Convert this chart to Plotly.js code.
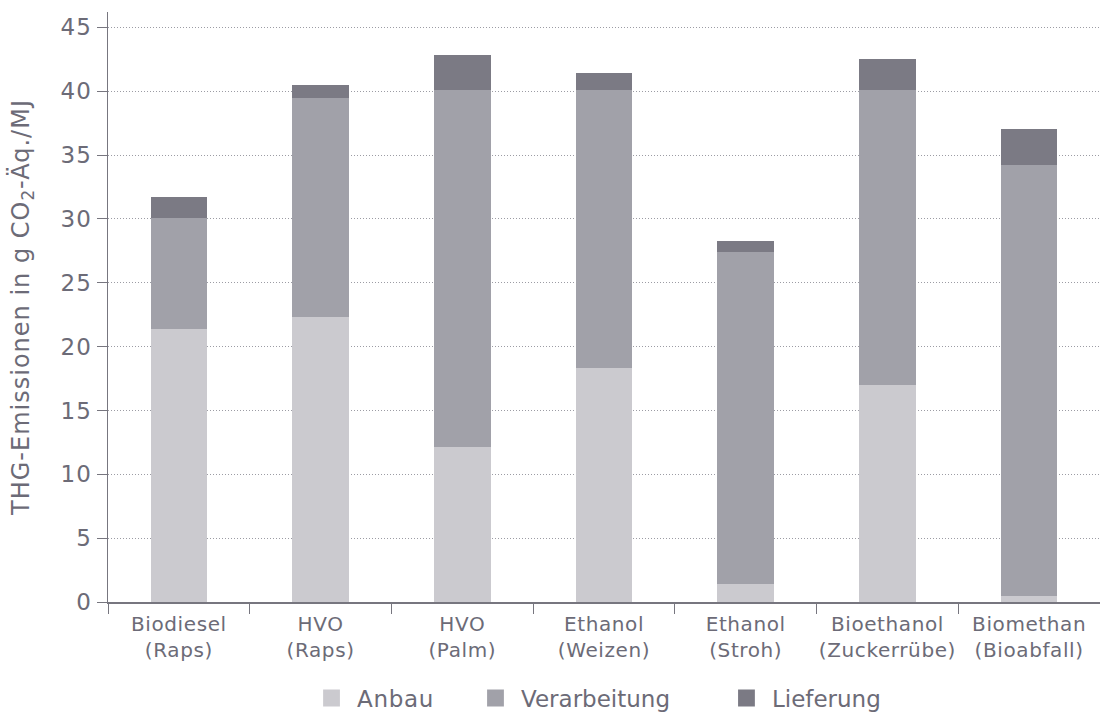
<!DOCTYPE html>
<html>
<head>
<meta charset="utf-8">
<script src="https://cdn.plot.ly/plotly-3.0.1.min.js"></script>
<style>
  html, body { margin: 0; padding: 0; background: #fff; }
  #chart { width: 1100px; height: 713px; }
  .xtick text { letter-spacing: 0.6px; }
  .ytick text, .ytitle { letter-spacing: 1px; }
  .legendtext { letter-spacing: 0.7px; }
</style>
</head>
<body>
<div id="chart"></div>
<script>
// Categories (fuel pathway with feedstock)
const categories = [
  "Biodiesel<br>(Raps)",
  "HVO<br>(Raps)",
  "HVO<br>(Palm)",
  "Ethanol<br>(Weizen)",
  "Ethanol<br>(Stroh)",
  "Bioethanol<br>(Zuckerrübe)",
  "Biomethan<br>(Bioabfall)"
];

// Emission shares in g CO2-eq./MJ
const anbau        = [21.4, 22.3, 12.1, 18.3, 1.4, 17.0, 0.5];
const verarbeitung = [8.7, 17.2, 28.0, 21.8, 26.0, 23.1, 33.7];
const lieferung    = [1.6, 1.0, 2.7, 1.3, 0.9, 2.4, 2.8];

const seriesNames  = ["Anbau", "Verarbeitung", "Lieferung"];
const seriesColors = ["#cbcacf", "#a1a1a9", "#7b7a84"];
// one legend box per series so each entry sits at its own spot
const legendIds    = ["legend", "legend2", "legend3"];
const legendX      = [0.2107, 0.3760, 0.6290];

const textColor = "#6c6b77";
const axisColor = "#77767f";

const traces = [anbau, verarbeitung, lieferung].map((vals, i) => ({
  type: "bar",
  x: categories,
  y: vals,
  name: seriesNames[i],
  legend: legendIds[i],
  marker: { color: seriesColors[i], line: { width: 0 } },
  hoverinfo: "x+y+name"
}));

const legendBase = (x) => ({
  orientation: "h",
  x: x,
  xanchor: "left",
  yref: "container",
  y: 0.021,
  yanchor: "middle",
  borderwidth: 0,
  bgcolor: "rgba(0,0,0,0)",
  font: { size: 23, color: textColor }
});

const layout = {
  width: 1100,
  height: 713,
  margin: { l: 108, r: 0, t: 12, b: 111, autoexpand: false },
  paper_bgcolor: "#ffffff",
  plot_bgcolor: "#ffffff",
  barmode: "stack",
  bargap: 0.6,
  font: { family: "DejaVu Sans, sans-serif", color: textColor, size: 20 },
  xaxis: {
    type: "category",
    automargin: false,
    showline: true,
    linecolor: axisColor,
    linewidth: 1.5,
    ticks: "outside",
    tickson: "boundaries",
    ticklen: 10,
    tickcolor: axisColor,
    tickwidth: 1,
    tickangle: 0,
    ticklabelstandoff: 3,
    showgrid: false,
    tickfont: { size: 20, color: textColor },
    fixedrange: true
  },
  yaxis: {
    automargin: false,
    range: [0, 46.2],
    tickvals: [0, 5, 10, 15, 20, 25, 30, 35, 40, 45],
    showline: true,
    linecolor: axisColor,
    linewidth: 1.5,
    ticks: "outside",
    ticklen: 10,
    tickcolor: axisColor,
    tickwidth: 1,
    showgrid: true,
    gridcolor: "#9c9ca4",
    griddash: "1px,2px",
    gridwidth: 1,
    zeroline: false,
    tickfont: { size: 23, color: textColor },
    title: {
      text: "THG-Emissionen in g CO<sub>2</sub>-Äq./MJ",
      font: { size: 24, color: textColor },
      standoff: 24
    },
    fixedrange: true
  },
  legend: legendBase(legendX[0]),
  legend2: legendBase(legendX[1]),
  legend3: legendBase(legendX[2]),
  showlegend: true
};

Plotly.newPlot("chart", traces, layout, { displayModeBar: false, staticPlot: true }).then(() => {
  // larger square swatches in the legend
  document.querySelectorAll(".legendpoints path").forEach(p => {
    p.setAttribute("transform", "translate(14.5,0) scale(1.4)");
  });
});
</script>
</body>
</html>
